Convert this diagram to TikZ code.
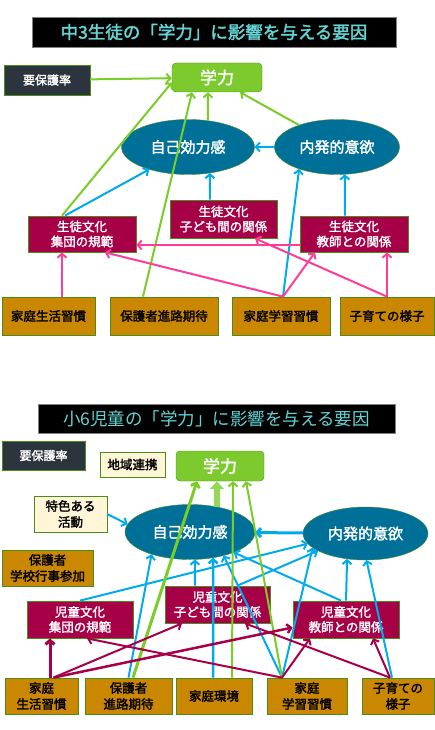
\documentclass[tikz,border=0pt]{standalone}
\usepackage{fontspec}
\setmainfont{Noto Sans CJK JP}[AutoFakeBold=2]
\usetikzlibrary{arrows.meta,shapes.geometric}

\definecolor{titleCyan}{RGB}{100,212,212}
\definecolor{riskFill}{RGB}{44,52,62}
\definecolor{goalFill}{RGB}{124,202,46}
\definecolor{ovalFill}{RGB}{0,112,152}
\definecolor{cultFill}{RGB}{166,0,70}
\definecolor{homeFill}{RGB}{202,136,0}
\definecolor{extraFill}{RGB}{255,245,215}
\definecolor{edgeGreen}{RGB}{72,140,30}
\definecolor{arrGreen}{RGB}{122,204,40}
\definecolor{arrLight}{RGB}{150,215,90}
\definecolor{arrBlue}{RGB}{0,170,235}
\definecolor{arrPink}{RGB}{255,60,150}
\definecolor{arrRed}{RGB}{168,0,72}

\begin{document}
\begin{tikzpicture}[x=1pt,y=-1pt]
\tikzstyle{Title} = [fill=black, draw=gray, text=titleCyan, minimum width=364, minimum height=30, inner sep=0pt, font=\bfseries\fontsize{17.5}{20}\selectfont]
\tikzstyle{Risk} = [rectangle, fill=riskFill, draw=edgeGreen, text=white, inner sep=0pt, font=\bfseries\fontsize{12}{15}\selectfont]
\tikzstyle{Goal} = [rectangle, rounded corners=4pt, fill=goalFill, draw=edgeGreen, text=white, inner sep=0pt, font=\bfseries\fontsize{17}{20}\selectfont]
\tikzstyle{Oval} = [ellipse, fill=ovalFill, draw=edgeGreen, text=white, inner sep=0pt, outer sep=0pt, font=\bfseries\fontsize{15}{18}\selectfont]
\tikzstyle{Culture} = [rectangle, fill=cultFill, draw=edgeGreen, line width=0.8pt, text=white, align=center, minimum width=108, minimum height=36, inner sep=0pt, font=\bfseries\fontsize{12.5}{15}\selectfont]
\tikzstyle{Home} = [rectangle, fill=homeFill, draw=edgeGreen, line width=0.8pt, text=black, align=center, minimum height=38, inner sep=0pt, font=\bfseries\fontsize{12.5}{16}\selectfont]
\tikzstyle{Extra} = [rectangle, fill=extraFill, draw=edgeGreen, text=black, align=center, inner sep=0pt, font=\bfseries\fontsize{12.5}{16}\selectfont]
\tikzstyle{GreenArr} = [arrGreen, line width=2pt, -{Straight Barb[length=4pt,width=9pt]}]
\tikzstyle{BlueArr} = [arrBlue, line width=2pt, -{Straight Barb[length=4pt,width=9pt]}]
\tikzstyle{PinkArr} = [arrPink, line width=2pt, -{Straight Barb[length=4pt,width=9pt]}]
\tikzstyle{RedArr} = [arrRed, line width=2pt, -{Straight Barb[length=4pt,width=9pt]}]
\useasboundingbox (0,0) rectangle (435,730);

% upper picture: junior high
\node[Title] (t_title) at (214,32) {中3生徒の「学力」に影響を与える要因};
\node[Risk, minimum width=86, minimum height=30] (t_hogo) at (47,80) {要保護率};
\node[Goal, minimum width=90, minimum height=29] (t_gaku) at (217,77.5) {学力};
\node[Oval, minimum width=133, minimum height=55] (t_jiko) at (188,147) {自己効力感};
\node[Oval, minimum width=125, minimum height=55] (t_naih) at (337,147) {内発的意欲};
\node[Culture] (t_shu) at (82,234) {生徒文化\\集団の規範};
\node[Culture, minimum width=107, minimum height=38] (t_kodo) at (223.5,219) {生徒文化\\子ども間の関係};
\node[Culture] (t_kyo) at (354,234) {生徒文化\\教師との関係};
\node[Home, minimum width=93] (t_sei) at (48.5,316) {家庭生活習慣};
\node[Home, minimum width=108] (t_shin) at (164,316) {保護者進路期待};
\node[Home, minimum width=98] (t_gakus) at (281,316) {家庭学習習慣};
\node[Home, minimum width=94] (t_kos) at (387,316) {子育ての様子};

\draw [GreenArr] (t_hogo) to (t_gaku);
\draw [GreenArr] ([xshift=-20pt]t_shu.north) to ([yshift=-5pt]t_gaku.west);
\draw [GreenArr] ([xshift=-21pt]t_shin.north) to ([xshift=-25pt]t_gaku.south);
\draw [GreenArr] (t_jiko.53) to ([xshift=-9pt]t_gaku.south);
\draw [GreenArr] (t_naih.150) to ([xshift=23pt]t_gaku.south);
\draw [BlueArr] (t_naih) to (t_jiko);
\draw [BlueArr] ([xshift=-17pt]t_shu.north) to (t_jiko.210);
\draw [BlueArr] ([xshift=-13.5pt]t_kodo.north) to (t_jiko.-50);
\draw [BlueArr] ([xshift=2pt]t_gakus.north) to (t_naih.210);
\draw [BlueArr] ([xshift=-9pt]t_kyo.north) to (t_naih.-74);
\draw [PinkArr] ([xshift=13.5pt]t_sei.north) to ([xshift=-20pt]t_shu.south);
\draw [PinkArr] ([yshift=-11pt]t_kyo.west) to ([yshift=-11pt]t_shu.east);
\draw [PinkArr] ([xshift=2pt]t_gakus.north) to ([xshift=23pt]t_shu.south);
\draw [PinkArr] ([xshift=2pt]t_gakus.north) to ([xshift=-39pt]t_kyo.south);
\draw [PinkArr] (t_kos.north) to ([xshift=31.5pt]t_kodo.south);
\draw [PinkArr] (t_kos.north) to ([xshift=33pt]t_kyo.south);

% lower picture: elementary
\node[Title, font=\fontsize{17.5}{20}\selectfont, minimum width=357, minimum height=29] (b_title) at (216.5,418.5) {小6児童の「学力」に影響を与える要因};
\node[Risk, minimum width=83, minimum height=29] (b_hogo) at (43.5,455.5) {要保護率};
\node[Extra, minimum width=65, minimum height=25] (b_chiiki) at (132.5,464.5) {地域連携};
\node[Goal, minimum width=88, minimum height=30] (b_gaku) at (220,466) {学力};
\node[Extra, minimum width=73, minimum height=36] (b_toku) at (70.5,514) {特色ある\\活動};
\node[Oval, minimum width=130, minimum height=55] (b_jiko) at (190,532) {自己効力感};
\node[Oval, minimum width=125, minimum height=53] (b_naih) at (365.5,533.5) {内発的意欲};
\node[Home, minimum width=91, minimum height=36] (b_sanka) at (47.5,568) {保護者\\学校行事参加};
\node[Culture, minimum width=106, minimum height=37] (b_shu) at (80,619.5) {児童文化\\集団の規範};
\node[Culture, minimum width=105, minimum height=37] (b_kodo) at (217.5,604.5) {児童文化\\子ども間の関係};
\node[Culture, minimum width=106, minimum height=37] (b_kyo) at (346,619.5) {児童文化\\教師との関係};
\node[Home, minimum width=73, minimum height=36] (b_sei) at (41.5,696) {家庭\\生活習慣};
\node[Home, minimum width=87, minimum height=36] (b_shin) at (128.5,696) {保護者\\進路期待};
\node[Home, minimum width=76, minimum height=36] (b_kan) at (214,696) {家庭環境};
\node[Home, minimum width=80, minimum height=36] (b_gakus) at (307,696) {家庭\\学習習慣};
\node[Home, minimum width=72, minimum height=36] (b_kos) at (398,696) {子育ての\\様子};

\draw [BlueArr] (b_toku.east) to (b_jiko.173);
\draw [BlueArr, line width=3pt] (b_naih) to (b_jiko);
\draw [BlueArr] (b_shu.north) to (b_naih.190);
\draw [BlueArr] (b_shin.north) to (b_jiko.210);
\draw [BlueArr, line width=2.5pt] ([xshift=-1pt]b_kan.north) to (b_jiko.-48);
\draw [BlueArr] ([xshift=-22.5pt]b_kodo.north) to (b_jiko.-80);
\draw [BlueArr] ([xshift=20pt]b_kodo.north) to (b_naih.200);
\draw [BlueArr] ([xshift=-5pt]b_kyo.north) to (b_jiko.-25);
\draw [BlueArr] ([xshift=-25pt]b_gakus.north) to (b_jiko.-35);
\draw [BlueArr] (b_kyo.north) to (b_naih.-126);
\draw [BlueArr] ([xshift=-25pt]b_gakus.north) to (b_naih.195);
\draw [BlueArr] ([xshift=-6pt]b_kos.north) to (b_naih.-88);
\draw [GreenArr, line width=3pt] ([xshift=4.5pt]b_shin.north) to ([xshift=-23pt]b_gaku.south);
\draw [arrLight, line width=6pt, -{Triangle[length=8pt,width=14pt]}] (b_jiko.43) to ([xshift=-3pt]b_gaku.south);
\draw [GreenArr] ([xshift=18pt]b_kan.north) to ([xshift=13pt]b_gaku.south);
\draw [GreenArr] ([xshift=-25pt]b_gakus.north) to ([xshift=26pt]b_gaku.south);
\draw [RedArr, line width=3pt] ([xshift=8.5pt]b_sei.north) to ([xshift=-30pt]b_shu.south);
\draw [RedArr] ([xshift=12pt]b_sei.north) to ([xshift=-35.5pt]b_kodo.south);
\draw [RedArr, line width=2.5pt] ([xshift=12pt]b_sei.north) to ([yshift=-8pt]b_kyo.west);
\draw [RedArr] ([xshift=-25pt]b_gakus.north) to ([xshift=7pt]b_shu.south);
\draw [RedArr] ([xshift=-25pt]b_gakus.north) to ([xshift=-36pt]b_kyo.south);
\draw [RedArr] ([xshift=-8pt]b_kos.north) to ([xshift=27.5pt]b_kodo.south);
\draw [RedArr] ([xshift=-8pt]b_kos.north) to ([xshift=27pt]b_kyo.south);
\end{tikzpicture}
\end{document}
